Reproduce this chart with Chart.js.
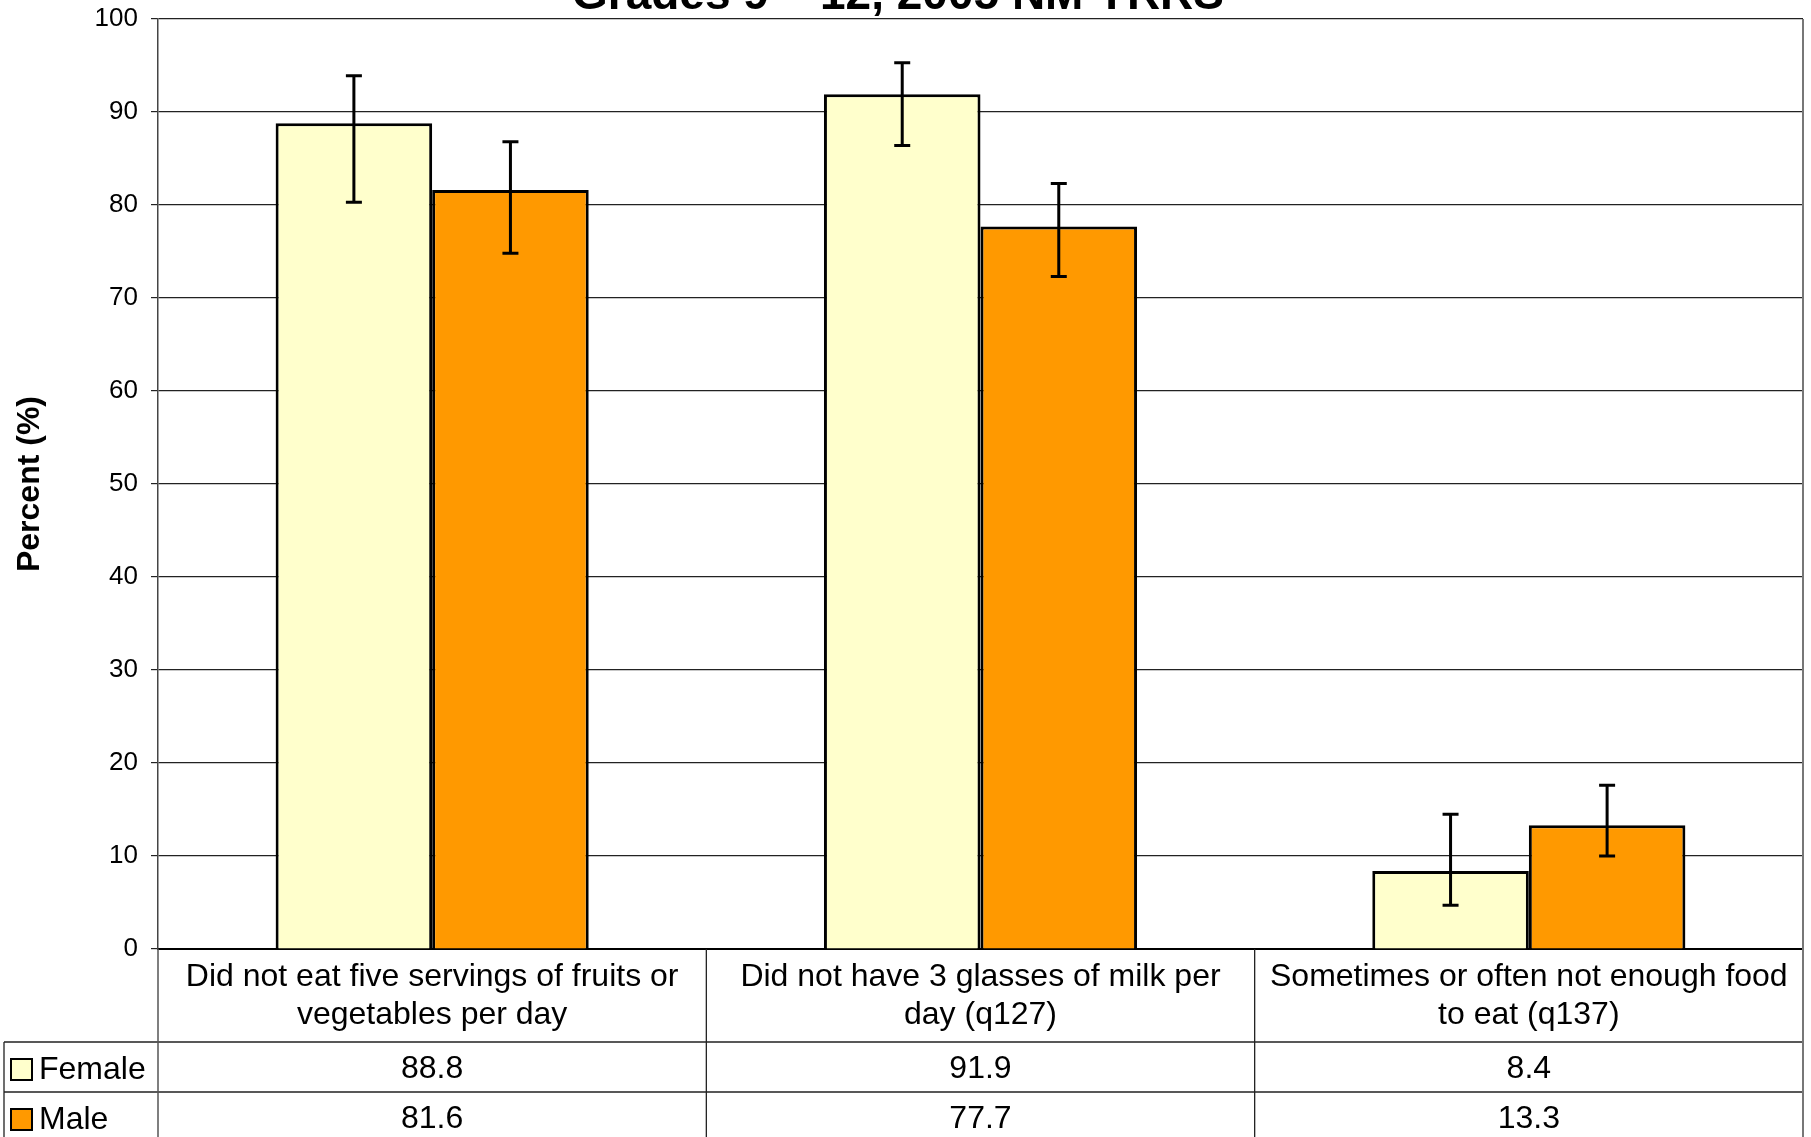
<!DOCTYPE html>
<html>
<head>
<meta charset="utf-8">
<title>Grades 9 - 12, 2005 NM YRRS</title>
<script src="https://cdn.jsdelivr.net/npm/chart.js@4.4.0/dist/chart.umd.min.js"></script>
<style>
body { margin: 0; background: #fff; }
#wrap { width: 1811px; height: 1137px; position: relative; }
</style>
</head>
<body>
<div id="wrap"><canvas id="grafik"></canvas></div>
<script>
// data
var categories = [
	['Did not eat five servings of fruits or', 'vegetables per day'],
	['Did not have 3 glasses of milk per', 'day (q127)'],
	['Sometimes or often not enough food', 'to eat (q137)']
];
var seriesNames = ['Female', 'Male'];
var female = [88.8, 91.9, 8.4];
var male = [81.6, 77.7, 13.3];
// confidence intervals (error bars)
var femaleLow = [80.3, 86.4, 4.7];
var femaleHigh = [93.9, 95.3, 14.5];
var maleLow = [74.8, 72.3, 10.0];
var maleHigh = [86.8, 82.3, 17.6];
var yTicks = [0, 10, 20, 30, 40, 50, 60, 70, 80, 90, 100];
var titleText = 'Grades 9 \u2013 12, 2005 NM YRRS';

window.warna = {
	female: '#FFFFCC',
	male: '#FF9900',
	garis: '#222222',
	abu: '#777777'
};
var huruf = '"Liberation Sans", Arial, sans-serif';

// title is partly cut off at the top of the picture
var judulPlugin = {
	id: 'judul',
	afterDraw: function(chart){
		var ctx = chart.ctx;
		ctx.save();
		ctx.fillStyle = '#000';
		ctx.font = 'bold 46px ' + huruf;
		ctx.textAlign = 'center';
		ctx.textBaseline = 'alphabetic';
		ctx.fillText(titleText, 898, 9);
		ctx.restore();
	}
};

var errorPlugin = {
	id: 'errorbars',
	afterDatasetsDraw: function(chart){
		var ctx = chart.ctx;
		var ys = chart.scales.y;
		ctx.save();
		ctx.strokeStyle = '#000';
		ctx.lineWidth = 3;
		chart.data.datasets.forEach(function(ds, di){
			var meta = chart.getDatasetMeta(di);
			meta.data.forEach(function(bar, i){
				var x = bar.x;
				var yt = ys.getPixelForValue(ds.errHigh[i]);
				var yb = ys.getPixelForValue(ds.errLow[i]);
				ctx.beginPath();
				ctx.moveTo(x, yt); ctx.lineTo(x, yb);
				ctx.moveTo(x - 8, yt); ctx.lineTo(x + 8, yt);
				ctx.moveTo(x - 8, yb); ctx.lineTo(x + 8, yb);
				ctx.stroke();
			});
		});
		ctx.restore();
	}
};

// data table under the x axis
var tabelPlugin = {
	id: 'tabel',
	afterDraw: function(chart){
		var ctx = chart.ctx;
		var xs = chart.scales.x;
		var area = chart.chartArea;
		var w = (xs.right - xs.left) / categories.length;
		var top = area.bottom;
		var row1 = top + 93;
		var row2 = row1 + 50;
		var bawah = chart.height;
		var kiri = 4;
		ctx.save();
		// lines
		ctx.strokeStyle = window.warna.garis;
		ctx.lineWidth = 1.3;
		ctx.beginPath();
		ctx.moveTo(kiri, row1); ctx.lineTo(xs.right, row1);
		ctx.moveTo(kiri, row2); ctx.lineTo(xs.right, row2);
		ctx.moveTo(kiri, row1); ctx.lineTo(kiri, bawah);
		for (var k = 1; k < categories.length; k++){
			ctx.moveTo(xs.left + k * w, top); ctx.lineTo(xs.left + k * w, bawah);
		}
		ctx.stroke();
		ctx.strokeStyle = '#555';
		ctx.lineWidth = 1.5;
		ctx.beginPath();
		ctx.moveTo(xs.left, top); ctx.lineTo(xs.left, bawah);
		ctx.stroke();
		ctx.strokeStyle = window.warna.abu;
		ctx.lineWidth = 2;
		ctx.beginPath();
		ctx.moveTo(xs.right, area.top); ctx.lineTo(xs.right, bawah);
		ctx.stroke();

		// category labels and values
		ctx.fillStyle = '#000';
		ctx.textAlign = 'center';
		ctx.textBaseline = 'middle';
		ctx.font = '32px ' + huruf;
		categories.forEach(function(lbl, i){
			var cx = xs.left + (i + 0.5) * w;
			ctx.fillText(lbl[0], cx, top + 28);
			ctx.fillText(lbl[1], cx, top + 66);
			ctx.fillText(female[i].toFixed(1), cx, row1 + 27);
			ctx.fillText(male[i].toFixed(1), cx, row2 + 27);
		});

		// legend keys
		var warnaSeri = [window.warna.female, window.warna.male];
		var rowY = [row1 + 27, row2 + 27];
		ctx.textAlign = 'left';
		seriesNames.forEach(function(nm, i){
			ctx.fillStyle = warnaSeri[i];
			ctx.fillRect(11, rowY[i] - 10, 21, 21);
			ctx.strokeStyle = '#000';
			ctx.lineWidth = 2;
			ctx.strokeRect(11, rowY[i] - 10, 21, 21);
			ctx.fillStyle = '#000';
			ctx.fillText(nm, 39, rowY[i] + 1);
		});
		ctx.restore();
	}
};

var ctx = document.getElementById('grafik');
var grafikku = new Chart(ctx, {
	type: 'bar',
	data: {
		labels: categories,
		datasets: [
			{
				label: seriesNames[0],
				data: female,
				errLow: femaleLow,
				errHigh: femaleHigh,
				backgroundColor: window.warna.female,
				borderColor: '#000',
				borderWidth: 3,
				categoryPercentage: 0.571,
				barPercentage: 1.0
			},
			{
				label: seriesNames[1],
				data: male,
				errLow: maleLow,
				errHigh: maleHigh,
				backgroundColor: window.warna.male,
				borderColor: '#000',
				borderWidth: 3,
				categoryPercentage: 0.571,
				barPercentage: 1.0
			}
		]
	},
	options: {
		responsive: true,
		maintainAspectRatio: false,
		devicePixelRatio: 1,
		animation: false,
		layout: { padding: { top: 19, right: 8, left: 0, bottom: 0 } },
		plugins: {
			legend: { display: false },
			title: { display: false },
			tooltip: { enabled: false }
		},
		scales: {
			x: {
				ticks: { display: false },
				grid: { display: false },
				border: { display: true, color: '#000', width: 2 },
				afterFit: function(scale){ scale.height = 188; }
			},
			y: {
				min: 0,
				max: 100,
				afterBuildTicks: function(scale){
					scale.ticks = yTicks.map(function(v){ return { value: v }; });
				},
				ticks: {
					color: '#000',
					font: { family: huruf, size: 26 },
					padding: 13
				},
				grid: {
					color: window.warna.garis,
					lineWidth: 1.2,
					tickLength: 7,
					tickColor: window.warna.garis
				},
				border: { display: true, color: '#444', width: 1.5 },
				title: {
					display: true,
					text: 'Percent (%)',
					color: '#000',
					font: { family: huruf, size: 32, weight: 'bold' },
					padding: { top: 11, bottom: 0 }
				},
				afterFit: function(scale){
					scale.width = 158;
					// keep the plot top at the layout padding
					scale.paddingTop = 0;
					scale.paddingBottom = 0;
				}
			}
		}
	},
	plugins: [errorPlugin, tabelPlugin, judulPlugin]
});
</script>
</body>
</html>
